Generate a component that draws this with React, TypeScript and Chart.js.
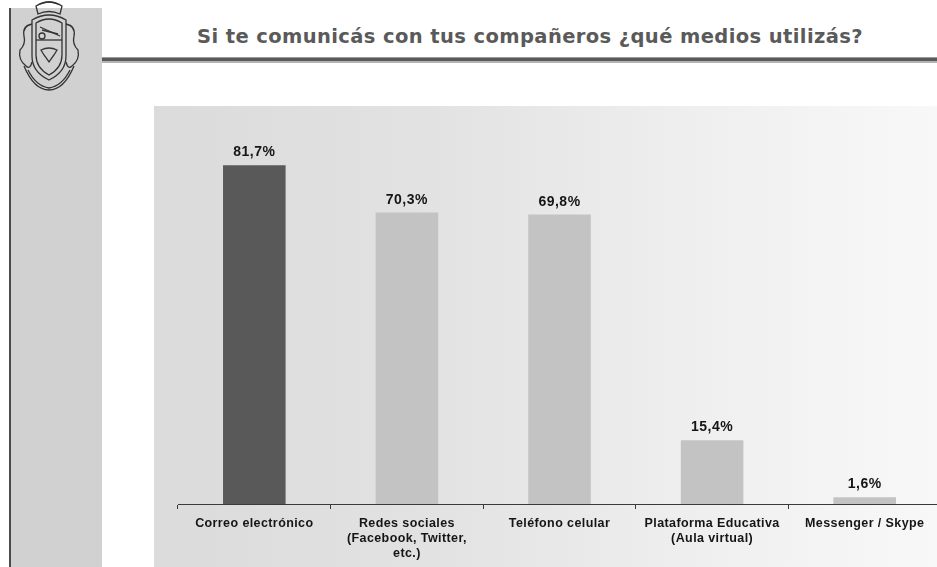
import React, { useEffect, useRef } from "react";
import { Chart, registerables } from "chart.js";

Chart.register(...registerables);

const titleText = "Si te comunicás con tus compañeros ¿qué medios utilizás?";
const categories: string[][] = [
  ["Correo electrónico"],
  ["Redes sociales", "(Facebook, Twitter,", "etc.)"],
  ["Teléfono celular"],
  ["Plataforma Educativa", "(Aula virtual)"],
  ["Messenger / Skype"],
];
const values = [81.7, 70.3, 69.8, 15.4, 1.6];
const valueLabels = ["81,7%", "70,3%", "69,8%", "15,4%", "1,6%"];
const barColors = ["#595959", "#c3c3c3", "#c3c3c3", "#c3c3c3", "#c3c3c3"];

const spacingPlugin = {
  id: "letterSpacing",
  beforeDraw(chart: any) {
    (chart.ctx as any).letterSpacing = "0.4px";
  },
  afterDraw(chart: any) {
    (chart.ctx as any).letterSpacing = "0px";
  },
};

const valueLabelPlugin = {
  id: "valueLabels",
  afterDatasetsDraw(chart: any) {
    const ctx = chart.ctx;
    const meta = chart.getDatasetMeta(0);
    ctx.save();
    (ctx as any).letterSpacing = "0.5px";
    ctx.font = "bold 14px 'Liberation Sans', Arial, sans-serif";
    ctx.fillStyle = "#151515";
    ctx.textAlign = "center";
    ctx.textBaseline = "alphabetic";
    meta.data.forEach((bar: any, i: number) => {
      ctx.fillText(valueLabels[i], bar.x, bar.y - 9);
    });
    ctx.restore();
  },
};

function Logo() {
  return (
    <svg width="70" height="92" viewBox="0 0 70 92" style={{ position: "absolute", left: 14, top: 0 }}>
      <g fill="none" stroke="#333" strokeWidth="1.3">
        <path d="M22 6 Q35 -2 48 6 L46 14 Q35 9 24 14 Z" />
        <path d="M26 4 Q35 0 44 4" />
        <path d="M18 20 Q35 10 52 20 L52 56 Q52 72 35 80 Q18 72 18 56 Z" />
        <path d="M22 23 Q35 15 48 23 L48 55 Q48 68 35 75 Q22 68 22 55 Z" />
        <path d="M22 40 L48 40" />
        <path d="M26 27 L46 36" />
        <path d="M28 30 L44 34" />
        <path d="M27 50 Q35 46 43 50 L40 55 L35 62 L30 55 Z" />
        <path d="M18 24 Q8 26 10 36 Q12 44 6 50 Q4 60 12 66 Q16 70 18 62" />
        <path d="M52 24 Q62 26 60 36 Q58 44 64 50 Q66 60 58 66 Q54 70 52 62" />
        <path d="M14 70 Q22 86 35 88 Q48 86 56 70" />
        <path d="M10 66 Q20 90 35 90 Q50 90 60 66" />
        <circle cx="28" cy="36" r="3" />
      </g>
    </svg>
  );
}

export default function App() {
  const canvasRef = useRef<HTMLCanvasElement | null>(null);

  useEffect(() => {
    const canvas = canvasRef.current;
    if (!canvas) return;
    const chart = new Chart(canvas, {
      type: "bar",
      data: {
        labels: categories,
        datasets: [
          {
            data: values,
            backgroundColor: barColors,
            borderWidth: 0,
            barPercentage: 0.41,
            categoryPercentage: 1,
          },
        ],
      },
      options: {
        animation: false,
        responsive: false,
        maintainAspectRatio: false,
        layout: { padding: { left: 24, right: 0, top: 0, bottom: 0 } },
        plugins: {
          legend: { display: false },
          tooltip: { enabled: false },
          title: { display: false },
        },
        scales: {
          y: {
            display: false,
            min: 0,
            max: 96,
          },
          x: {
            offset: true,
            grid: {
              display: true,
              offset: true,
              drawOnChartArea: false,
              drawTicks: true,
              tickLength: 5,
              color: "#3a3a3a",
            },
            border: { display: true, color: "#3a3a3a", width: 1 },
            ticks: {
              autoSkip: false,
              maxRotation: 0,
              minRotation: 0,
              padding: 7.5,
              color: "#151515",
              font: { family: "'Liberation Sans', Arial, sans-serif", size: 12.5, weight: "bold", lineHeight: 1.2 },
            },
          },
        },
      },
      plugins: [spacingPlugin, valueLabelPlugin],
    });
    return () => chart.destroy();
  }, []);

  return (
    <div style={{ position: "absolute", left: 0, top: 0, width: 937, height: 567, overflow: "hidden", background: "#ffffff" }}>
      <div
        style={{
          position: "absolute",
          left: 9,
          top: 8,
          width: 93,
          height: 559,
          background: "#d1d1d1",
          borderLeft: "2px solid #4a4a4a",
          boxSizing: "border-box",
        }}
      />
      <Logo />
      <div
        style={{
          position: "absolute",
          left: 530,
          top: 25,
          transform: "translateX(-50%)",
          whiteSpace: "nowrap",
          fontFamily: "'DejaVu Sans', Verdana, sans-serif",
          fontWeight: "bold",
          fontSize: 19.5,
          letterSpacing: "0.4px",
          color: "#5a5a5a",
          lineHeight: "normal",
        }}
      >
        {titleText}
      </div>
      <div style={{ position: "absolute", left: 102, top: 57, width: 835, height: 1, background: "#9a9a9a" }} />
      <div style={{ position: "absolute", left: 102, top: 58, width: 835, height: 3, background: "#5a5a5a" }} />
      <div style={{ position: "absolute", left: 102, top: 61, width: 835, height: 2, background: "#b4b4b4" }} />
      <div
        style={{
          position: "absolute",
          left: 154,
          top: 106,
          width: 783,
          height: 461,
          overflow: "hidden",
          background: "linear-gradient(to right, #dbdbdb 0%, #e2e2e2 35%, #efefef 70%, #f8f8f8 100%)",
        }}
      >
        <canvas ref={canvasRef} width={787} height={463} style={{ width: 787, height: 463, display: "block" }} />
      </div>
    </div>
  );
}
